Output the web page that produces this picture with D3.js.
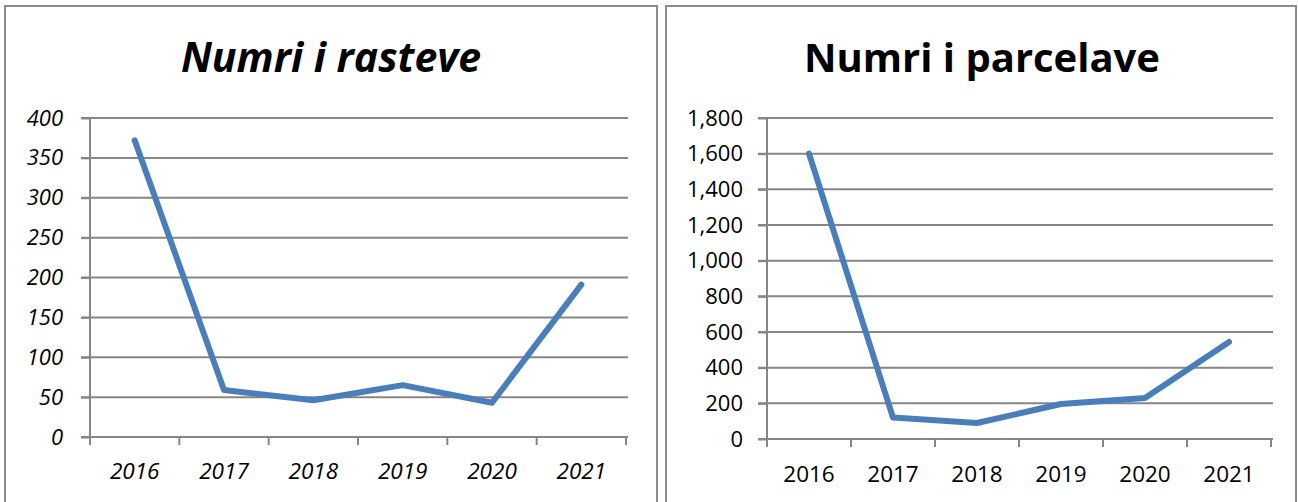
<!DOCTYPE html>
<html>
<head>
<meta charset="utf-8">
<script src="https://cdn.jsdelivr.net/npm/d3@7"></script>
<style>
  body { margin: 0; background: #fff; }
  svg { display: block; }
  .axis path, .axis line { stroke: #868686; stroke-width: 2; }
  .grid line { stroke: #868686; stroke-width: 2; }
  .tick text { fill: #000; }
</style>
</head>
<body>
<script>
var years = ["2016", "2017", "2018", "2019", "2020", "2021"];
var rasteve = [372, 59, 46, 65, 43, 191];
var parcelave = [1600, 120, 90, 196, 230, 544];
var rasteveTicks = [0, 50, 100, 150, 200, 250, 300, 350, 400];
var parcelaveTicks = [0, 200, 400, 600, 800, 1000, 1200, 1400, 1600, 1800];

var screen = {width: 1298, height: 502};

var svg = d3.select("body")
            .append("svg")
            .attr("width", screen.width)
            .attr("height", screen.height);

var drawChart = function(opts)
{
  var g = svg.append("g");

  g.append("rect")
   .attr("x", opts.box[0])
   .attr("y", opts.box[1])
   .attr("width", opts.box[2])
   .attr("height", opts.box[3])
   .attr("fill", "white")
   .attr("stroke", "#8c8c8c")
   .attr("stroke-width", 2);

  g.append("text")
   .attr("x", opts.titleX)
   .attr("y", 72)
   .attr("text-anchor", "middle")
   .style("font-family", "'Open Sans', sans-serif")
   .style("font-weight", "bold")
   .style("font-style", opts.italic ? "italic" : "normal")
   .style("font-size", opts.titleSize + "px")
   .text(opts.title);

  var xScale = d3.scaleBand()
                 .domain(years)
                 .range([opts.left, opts.right]);

  var yScale = d3.scaleLinear()
                 .domain([0, d3.max(opts.ticks)])
                 .range([opts.bottom, opts.top]);

  g.append("g")
   .attr("class", "grid")
   .selectAll("line")
   .data(opts.ticks)
   .enter()
   .append("line")
   .attr("x1", opts.left - 9)
   .attr("x2", opts.right + 2)
   .attr("y1", function(d) { return yScale(d); })
   .attr("y2", function(d) { return yScale(d); });

  var yAxis = d3.axisLeft(yScale)
                .tickValues(opts.ticks)
                .tickSize(9)
                .tickPadding(opts.yPad)
                .tickFormat(d3.format(","));

  var ya = g.append("g")
   .attr("class", "axis")
   .attr("transform", "translate(" + opts.left + ",0)")
   .call(yAxis);
  ya.select(".domain").attr("d", "M0," + opts.top + "V" + opts.bottom);
  ya.selectAll("text")
    .style("font-family", "'Open Sans', sans-serif")
    .style("font-size", "22px")
    .style("font-style", opts.italic ? "italic" : "normal");

  var xAxis = d3.axisBottom(xScale).tickSize(0).tickPadding(opts.xPad);
  var xa = g.append("g")
   .attr("class", "axis")
   .attr("transform", "translate(0," + opts.bottom + ")")
   .call(xAxis);
  xa.select(".domain").remove();
  xa.selectAll("text")
    .style("font-family", "'Open Sans', sans-serif")
    .style("font-size", "22.5px")
    .style("font-style", opts.italic ? "italic" : "normal");

  // category separators
  var edges = years.map(function(d) { return xScale(d); }).concat([opts.right]);
  g.append("g")
   .attr("class", "axis")
   .selectAll("line")
   .data(edges)
   .enter()
   .append("line")
   .attr("x1", function(d) { return d; })
   .attr("x2", function(d) { return d; })
   .attr("y1", opts.bottom)
   .attr("y2", opts.bottom + 8);

  var line = d3.line()
               .x(function(d, i) { return xScale(years[i]) + xScale.bandwidth() / 2; })
               .y(function(d) { return yScale(d); });

  g.append("path")
   .datum(opts.values)
   .attr("d", line)
   .attr("fill", "none")
   .attr("stroke", "#4a7ebb")
   .attr("stroke-width", 6)
   .attr("stroke-linejoin", "round")
   .attr("stroke-linecap", "round");
};

drawChart({
  box: [5, 6, 652, 520],
  title: "Numri i rasteve",
  titleX: 331,
  titleSize: 41,
  italic: true,
  values: rasteve,
  ticks: rasteveTicks,
  yPad: 18, xPad: 26,
  left: 90, right: 626, top: 118, bottom: 437
});

drawChart({
  box: [666, 6, 630, 520],
  title: "Numri i parcelave",
  titleX: 982,
  titleSize: 40,
  italic: false,
  values: parcelave,
  ticks: parcelaveTicks,
  yPad: 15, xPad: 27,
  left: 767, right: 1271, top: 118, bottom: 439
});
</script>
</body>
</html>
